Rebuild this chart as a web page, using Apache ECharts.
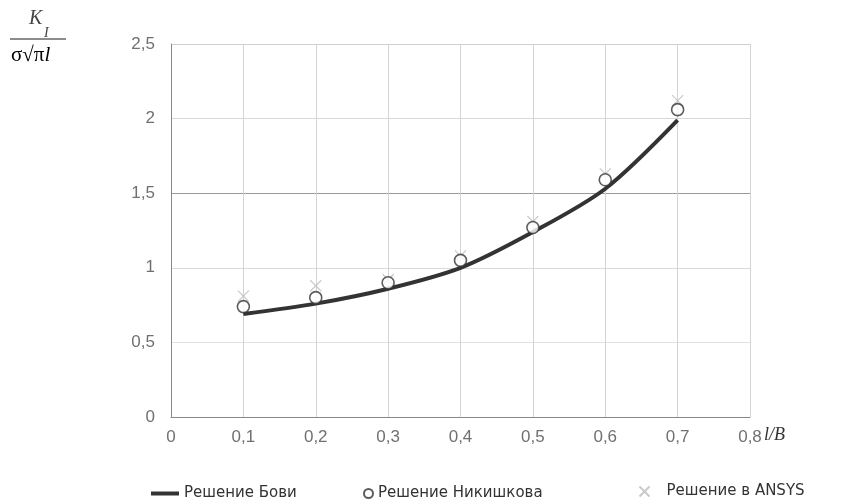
<!DOCTYPE html>
<html><head><meta charset="utf-8">
<script src="https://cdn.jsdelivr.net/npm/echarts@6/dist/echarts.min.js"></script>
<style>html,body{margin:0;padding:0;background:#fff}#c{width:849px;height:502px}</style>
</head><body><div id="c"></div>
<script>
const xValues = [0.1, 0.2, 0.3, 0.4, 0.5, 0.6, 0.7];
const bowie = [0.69, 0.76, 0.86, 1.0, 1.24, 1.53, 1.99];
const nikishkov = [0.74, 0.80, 0.90, 1.05, 1.27, 1.59, 2.06];
const ansys = [0.81, 0.88, 0.92, 1.08, 1.31, 1.63, 2.12];
const seriesNames = ['Решение Бови', 'Решение Никишкова', 'Решение в ANSYS'];

const pair = a => xValues.map((x, i) => [x, a[i]]);
const crossPath = 'path://M0,0L10,10M10,0L0,10';
const font = 'Liberation Sans, Arial';
const legText = { color: '#333', fontSize: 15, fontFamily: 'DejaVu Sans' };
const chart = echarts.init(document.getElementById('c'));
chart.setOption({
  animation: false,
  backgroundColor: '#fff',
  grid: { left: 171, right: 99, top: 44, bottom: 85 },
  xAxis: {
    type: 'value', min: 0, max: 0.8, interval: 0.1,
    axisLine: { lineStyle: { color: '#888' } },
    axisTick: { show: false },
    splitLine: { show: true, lineStyle: { color: '#d4d4d4' } },
    axisLabel: { color: '#707070', fontSize: 17, fontFamily: font, margin: 12,
      formatter: v => String(Math.round(v * 10) / 10).replace('.', ',') }
  },
  yAxis: {
    type: 'value', min: 0, max: 2.5, interval: 0.5,
    axisLine: { show: true, lineStyle: { color: '#888' } },
    axisTick: { show: false },
    splitLine: { show: true, lineStyle: { color: ['#d8d8d8', '#e2e2e2', '#dadada', '#9a9a9a', '#d8d8d8', '#d0d0d0'] } },
    axisLabel: { color: '#707070', fontSize: 17, fontFamily: font, margin: 16,
      formatter: v => String(v).replace('.', ',') }
  },
  legend: [
    { data: [{ name: seriesNames[0], icon: 'rect' }], left: 146, top: 481, itemWidth: 28, itemHeight: 4, itemGap: 4,
      textStyle: legText },
    { data: [{ name: seriesNames[1], icon: 'circle' }], left: 358, top: 481, itemWidth: 9, itemHeight: 9,
      textStyle: legText },
    { data: [seriesNames[2]], left: 632, top: 479, itemWidth: 10, itemHeight: 10,
      textStyle: Object.assign({ padding: [0, 0, 0, 12] }, legText) }
  ],
  series: [
    { name: seriesNames[0], type: 'line', smooth: 0.3, data: pair(bowie), showSymbol: false,
      itemStyle: { color: '#333' },
      lineStyle: { color: '#333', width: 4 }, z: 2 },
    { name: seriesNames[1], type: 'scatter', data: pair(nikishkov), symbol: 'circle', symbolSize: 12,
      itemStyle: { color: '#fff', borderColor: '#333', borderWidth: 1.6 }, z: 3 },
    { name: seriesNames[2], type: 'scatter', data: pair(ansys), symbol: crossPath, symbolSize: 11,
      itemStyle: { color: 'none', borderColor: '#bbb', borderWidth: 1.2 }, z: 1 }
  ],
  graphic: [
    { type: 'text', left: 29, top: 9, style: { text: 'K', font: 'italic 20px "Liberation Serif", serif', fill: '#444' } },
    { type: 'text', left: 44, top: 26, style: { text: 'I', font: 'italic 14px "Liberation Serif", serif', fill: '#444' } },
    { type: 'line', shape: { x1: 10, y1: 39, x2: 66, y2: 39 }, style: { stroke: '#666', lineWidth: 1.5 } },
    { type: 'text', left: 11, top: 45, style: { text: '{a|σ√π}{b|l}',
      rich: { a: { fontFamily: 'Liberation Serif', fontSize: 21, color: '#444' },
              b: { fontFamily: 'Liberation Serif', fontStyle: 'italic', fontSize: 21, color: '#444' } } } },
    { type: 'text', left: 764, top: 426, style: { text: 'l/B', font: 'italic 18px "Liberation Serif", serif', fill: '#333' } }
  ]
});
</script></body></html>
